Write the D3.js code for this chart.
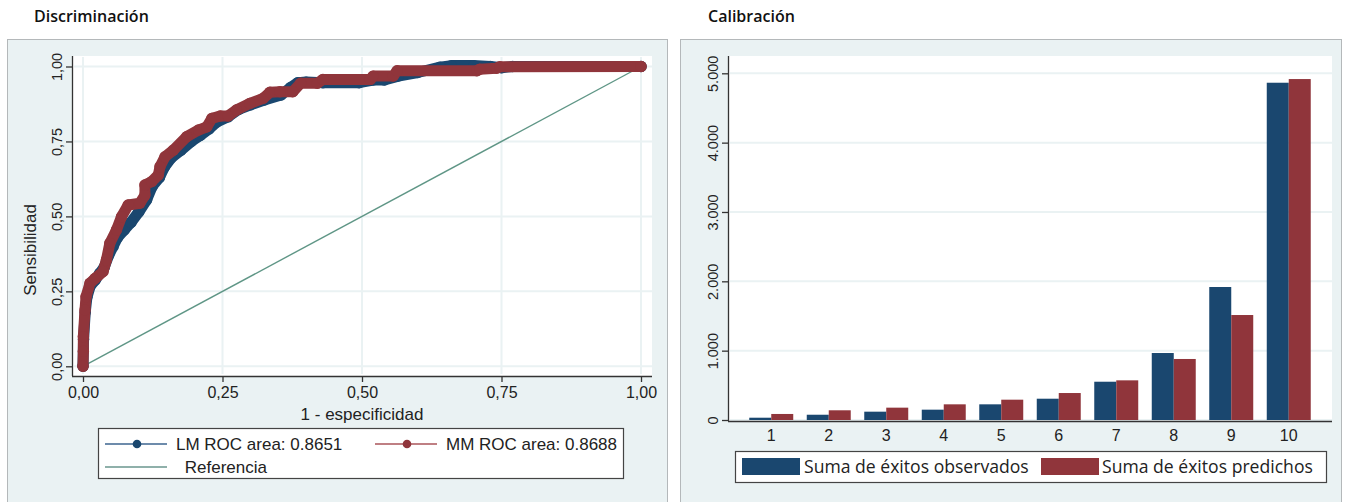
<!DOCTYPE html>
<html><head><meta charset="utf-8">
<script src="https://cdn.jsdelivr.net/npm/d3@7"></script>
<style>
html,body{margin:0;padding:0;background:#fff;}
svg{display:block;}
</style></head>
<body>
<svg id="chart" width="1349" height="502"></svg>
<script>
// ---------- DATA ----------
const rocTicks = [0, 0.25, 0.5, 0.75, 1];
const lmFpr = [0,0.001,0.004,0.007,0.013,0.022,0.03,0.038,0.046,0.054,0.062,0.074,0.086,0.10,0.114,0.124,0.137,0.146,0.158,0.175,0.194,0.21,0.226,0.24,0.26,0.279,0.30,0.325,0.355,0.372,0.385,0.40,0.43,0.495,0.52,0.54,0.565,0.60,0.64,0.66,0.70,0.73,0.75,0.77,1];
const lmTpr = [0,0.09,0.18,0.23,0.268,0.288,0.31,0.33,0.37,0.40,0.43,0.455,0.48,0.515,0.555,0.60,0.63,0.665,0.695,0.72,0.75,0.77,0.792,0.815,0.832,0.857,0.872,0.888,0.905,0.93,0.946,0.948,0.946,0.946,0.955,0.955,0.968,0.98,0.998,1.003,1.003,1.0,0.996,1.0,1];
const mmFpr = [0,0.0006,0.0006,0.0036,0.0054,0.0125,0.0215,0.036,0.042,0.048,0.060,0.069,0.081,0.102,0.111,0.111,0.123,0.135,0.138,0.147,0.162,0.186,0.207,0.222,0.231,0.246,0.260,0.275,0.299,0.323,0.335,0.353,0.376,0.39,0.42,0.43,0.515,0.52,0.556,0.563,0.706,0.711,0.741,0.747,1];
const mmTpr = [0,0.05,0.099,0.188,0.232,0.277,0.293,0.316,0.355,0.41,0.455,0.499,0.538,0.544,0.571,0.605,0.616,0.638,0.666,0.699,0.721,0.766,0.788,0.799,0.827,0.835,0.835,0.855,0.877,0.894,0.914,0.916,0.916,0.944,0.944,0.957,0.957,0.968,0.968,0.986,0.986,0.991,0.994,0.999,1];
const refFpr = [0, 1];
const refTpr = [0, 1];
const rocLegend = ["LM ROC area: 0.8651", "MM ROC area: 0.8688", " Referencia"];

const deciles = ["1","2","3","4","5","6","7","8","9","10"];
const observed = [33, 76, 120, 149, 226, 307, 552, 966, 1918, 4864];
const predicted = [87, 140, 178, 226, 293, 389, 572, 880, 1514, 4917];
const calTicks = [0, 1000, 2000, 3000, 4000, 5000];
const calLegend = ["Suma de éxitos observados", "Suma de éxitos predichos"];

// ---------- STYLE ----------
const NAVY = "#1a476f", MAROON = "#90353b", TEAL = "#5f9686";
const PANEL = "#eaf2f3", GRID = "#eaf2f3";
const AX = "Liberation Sans, Arial, sans-serif";
const SEG = "Open Sans, Noto Sans, sans-serif";

const svg = d3.select("#chart");
const esFmt = d3.formatLocale({decimal:",", thousands:".", grouping:[3], currency:["",""]});
const f2 = esFmt.format(".2f");
const fInt = esFmt.format(",d");

// ================= LEFT PANEL =================
svg.append("text").attr("x",34).attr("y",22).attr("font-family",SEG).attr("font-weight",600)
  .attr("font-size",16).attr("fill","#111").text("Discriminación");
svg.append("rect").attr("x",7.5).attr("y",39.5).attr("width",660).attr("height",470)
  .attr("fill",PANEL).attr("stroke","#b4b8ba");
svg.append("rect").attr("x",72).attr("y",56).attr("width",580).attr("height",320).attr("fill","#fff");

const xR = d3.scaleLinear().domain([0,1]).range([83,641]);
const yR = d3.scaleLinear().domain([0,1]).range([366.3,66.5]);

// grid
const gL = svg.append("g");
gL.selectAll("line.h").data(rocTicks).join("line")
  .attr("x1",74).attr("x2",652).attr("y1",d=>yR(d)).attr("y2",d=>yR(d))
  .attr("stroke",GRID).attr("stroke-width",2);
gL.selectAll("line.v").data(rocTicks).join("line")
  .attr("y1",57).attr("y2",374).attr("x1",d=>xR(d)).attr("x2",d=>xR(d))
  .attr("stroke",GRID).attr("stroke-width",2);

// axes
const xAxL = svg.append("g").attr("transform","translate(0,376)")
  .call(d3.axisBottom(xR).tickValues(rocTicks).tickFormat(d=>f2(d)).tickSize(6).tickPadding(5));
xAxL.select(".domain").attr("d","M72,0.5H652").attr("stroke","#333").attr("stroke-width",1.3);
xAxL.selectAll(".tick line").attr("stroke","#333").attr("stroke-width",1.3);
xAxL.selectAll("text").attr("font-family",AX).attr("font-size",16).attr("fill","#222");

const yAxL = svg.append("g").attr("transform","translate(72,0)")
  .call(d3.axisLeft(yR).tickValues(rocTicks).tickFormat(d=>f2(d)).tickSize(6));
yAxL.select(".domain").attr("d","M0.5,56V376").attr("stroke","#333").attr("stroke-width",1.3);
yAxL.selectAll(".tick line").attr("stroke","#333").attr("stroke-width",1.3);
yAxL.selectAll("text").attr("font-family",AX).attr("font-size",14.5).attr("fill","#222")
  .attr("x",0).attr("text-anchor","middle")
  .attr("transform","translate(-15,0) rotate(-90)").attr("dy","0.35em");

svg.append("text").attr("x",(83+641)/2).attr("y",420).attr("text-anchor","middle")
  .attr("font-family",AX).attr("font-size",17).attr("fill","#222").text("1 - especificidad");
svg.append("text").attr("transform","translate(36,250) rotate(-90)").attr("text-anchor","middle")
  .attr("font-family",AX).attr("font-size",17).attr("fill","#222").text("Sensibilidad");

// curves
const line = d3.line().x(d=>xR(d[0])).y(d=>yR(d[1]));
const refPts = d3.zip(refFpr, refTpr);
const lmPts = d3.zip(lmFpr, lmTpr);
const mmPts = d3.zip(mmFpr, mmTpr);
svg.append("path").attr("d",line(refPts)).attr("fill","none").attr("stroke",TEAL).attr("stroke-width",1.4);
[[lmPts,NAVY],[mmPts,MAROON]].forEach(([pts,c])=>{
  svg.append("path").attr("d",line(pts)).attr("fill","none").attr("stroke",c)
    .attr("stroke-width",11).attr("stroke-linejoin","round").attr("stroke-linecap","round");
  svg.append("g").selectAll("circle").data(pts).join("circle")
    .attr("cx",d=>xR(d[0])).attr("cy",d=>yR(d[1])).attr("r",5.7).attr("fill",c);
});

// legend
const lgL = svg.append("g");
lgL.append("rect").attr("x",98.5).attr("y",428.5).attr("width",525).attr("height",50)
  .attr("fill","#fff").attr("stroke","#444").attr("stroke-width",1.2);
const legItems = [
  {x:105, y:444, c:"#6d8bab", m:NAVY, t:rocLegend[0], tx:176},
  {x:375, y:444, c:"#bf7f83", m:MAROON, t:rocLegend[1], tx:446},
  {x:105, y:467, c:"#8fb0aa", m:null, t:rocLegend[2], tx:180}
];
legItems.forEach(it=>{
  lgL.append("line").attr("x1",it.x).attr("x2",it.x+62).attr("y1",it.y).attr("y2",it.y)
    .attr("stroke",it.c).attr("stroke-width",2);
  if(it.m) lgL.append("circle").attr("cx",it.x+32).attr("cy",it.y).attr("r",4.3).attr("fill",it.m);
  lgL.append("text").attr("x",it.tx).attr("y",it.y).attr("dy","0.36em").attr("font-family",AX)
    .attr("font-size",17).attr("fill","#222").attr("xml:space","preserve").text(it.t);
});

// ================= RIGHT PANEL =================
svg.append("text").attr("x",708).attr("y",22).attr("font-family",SEG).attr("font-weight",600)
  .attr("font-size",16).attr("fill","#111").text("Calibración");
svg.append("rect").attr("x",680.5).attr("y",39.5).attr("width",661).attr("height",470)
  .attr("fill",PANEL).attr("stroke","#b4b8ba");
svg.append("rect").attr("x",728).attr("y",56).attr("width",604).attr("height",365).attr("fill","#fff");

const xC = d3.scaleBand().domain(deciles).range([742.5,1317.5]).paddingInner(0.235).paddingOuter(0.1175);
const xSub = d3.scaleBand().domain(["obs","pred"]).range([0,xC.bandwidth()]);
const yC = d3.scaleLinear().domain([0,5000]).range([420,73.3]);

svg.append("g").selectAll("line").data(calTicks).join("line")
  .attr("x1",730).attr("x2",1332).attr("y1",d=>yC(d)).attr("y2",d=>yC(d))
  .attr("stroke",GRID).attr("stroke-width",2);

const bars = svg.append("g");
bars.selectAll("rect.o").data(deciles).join("rect")
  .attr("x",d=>xC(d)+xSub("obs")).attr("width",xSub.bandwidth())
  .attr("y",(d,i)=>yC(observed[i])).attr("height",(d,i)=>yC(0)-yC(observed[i]))
  .attr("fill",NAVY);
bars.selectAll("rect.p").data(deciles).join("rect")
  .attr("x",d=>xC(d)+xSub("pred")).attr("width",xSub.bandwidth())
  .attr("y",(d,i)=>yC(predicted[i])).attr("height",(d,i)=>yC(0)-yC(predicted[i]))
  .attr("fill",MAROON);

const xAxC = svg.append("g").attr("transform","translate(0,421)")
  .call(d3.axisBottom(xC).tickSize(5).tickPadding(4));
xAxC.select(".domain").attr("d","M728,0.5H1332").attr("stroke","#333").attr("stroke-width",1.3);
xAxC.selectAll(".tick line").remove();
xAxC.selectAll("text").attr("font-family",AX).attr("font-size",16).attr("fill","#222").attr("y",9);

const yAxC = svg.append("g").attr("transform","translate(728,0)")
  .call(d3.axisLeft(yC).tickValues(calTicks).tickFormat(d=>fInt(d)).tickSize(6));
yAxC.select(".domain").attr("d","M0.5,56V421").attr("stroke","#333").attr("stroke-width",1.3);
yAxC.selectAll(".tick line").attr("stroke","#333").attr("stroke-width",1.3);
yAxC.selectAll("text").attr("font-family",AX).attr("font-size",14.5).attr("fill","#222")
  .attr("x",0).attr("text-anchor","middle")
  .attr("transform","translate(-15,0) rotate(-90)").attr("dy","0.35em");

// legend
const lgC = svg.append("g");
lgC.append("rect").attr("x",735.5).attr("y",451.5).attr("width",591).attr("height",31)
  .attr("fill","#fff").attr("stroke","#444").attr("stroke-width",1.2);
const calItems = [{x:742, c:NAVY, t:calLegend[0], tx:804},{x:1041, c:MAROON, t:calLegend[1], tx:1102}];
calItems.forEach(it=>{
  lgC.append("rect").attr("x",it.x).attr("y",458).attr("width",58).attr("height",17).attr("fill",it.c);
  lgC.append("text").attr("x",it.tx).attr("y",467).attr("dy","0.36em").attr("font-family",SEG)
    .attr("font-size",17.6).attr("fill","#222").text(it.t);
});
</script>
</body></html>
